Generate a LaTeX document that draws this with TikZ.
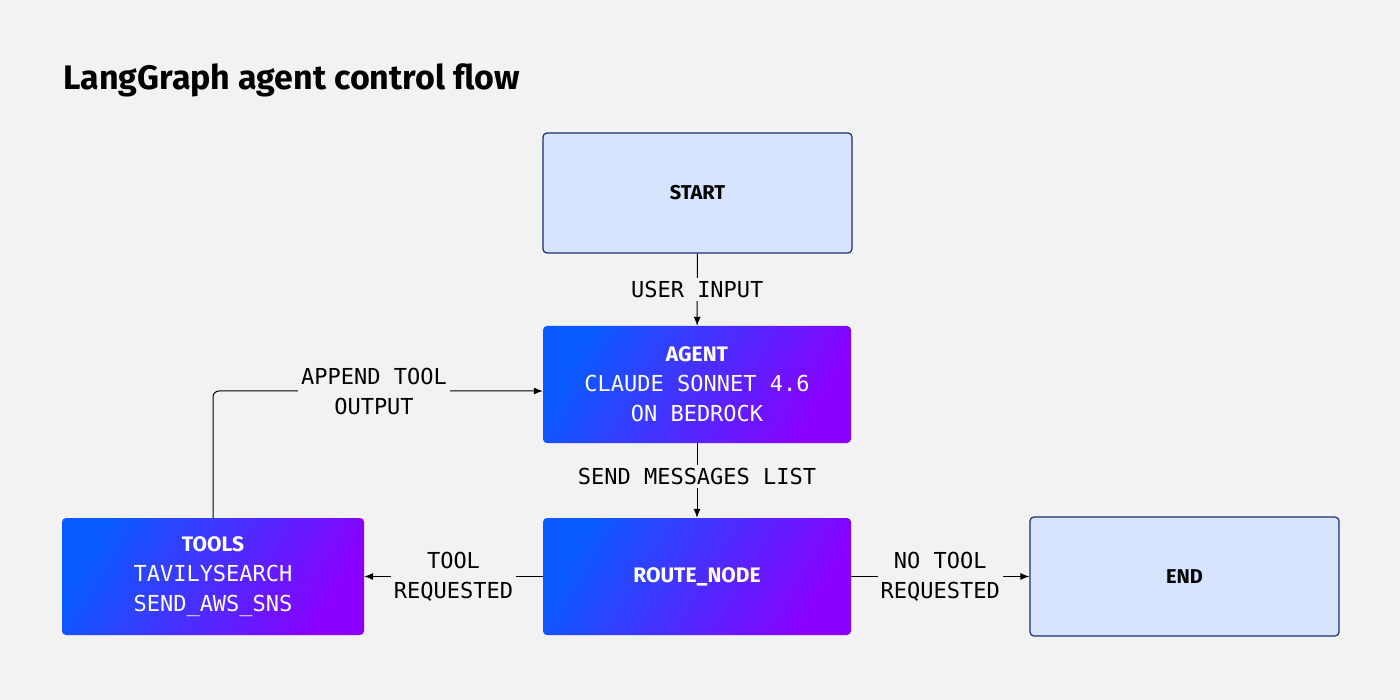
\documentclass[tikz,border=0pt]{standalone}
\usepackage{fontspec}
\setmainfont{Fira Sans}
\newfontfamily\monof{DejaVu Sans Mono}
\usetikzlibrary{arrows.meta}
\definecolor{bg}{HTML}{F2F2F2}
\definecolor{lite}{HTML}{D6E4FF}
\definecolor{navy}{HTML}{1B2E6E}
\definecolor{gA}{HTML}{0A5BFF}
\definecolor{gB}{HTML}{8A00FF}
\tikzset{
 lbox/.style={draw=navy,line width=1.2pt,fill=lite,rounded corners=4pt,font=\fontsize{20}{24}\selectfont\bfseries,text=black},
 gbox/.style={rounded corners=4pt,left color=gA,right color=gB,shading angle=60,text=white,align=center,
   font=\fontsize{22}{30}\selectfont\monof},
 arr/.style={-{Latex[length=9pt,width=7pt]},line width=1pt,black},
 lab/.style={fill=bg,inner sep=3pt,align=center,font=\fontsize{22}{30}\selectfont\monof}
}
\begin{document}
\begin{tikzpicture}[x=1pt,y=-1pt]
\fill[bg] (0,0) rectangle (1400,700);
\useasboundingbox (0,0) rectangle (1400,700);
\node[anchor=west,font=\fontsize{34}{40}\selectfont\bfseries] (title) at (60,80) {LangGraph agent control flow};
\node[lbox,minimum width=309pt,minimum height=120pt] (start) at (697.5,193) {START};
\node[gbox,minimum width=308pt,minimum height=117pt] (agent) at (697,384.5) {{\fontsize{21}{30}\selectfont\sffamily\bfseries\fontspec{Fira Sans}AGENT}\\CLAUDE SONNET 4.6\\ON BEDROCK};
\node[gbox,minimum width=308pt,minimum height=117pt,font=\fontsize{21}{30}\selectfont\bfseries] (route) at (697,576.5) {ROUTE\_NODE};
\node[gbox,minimum width=302pt,minimum height=117pt] (tools) at (213,576.5) {{\fontsize{21}{30}\selectfont\bfseries\fontspec{Fira Sans}TOOLS}\\TAVILYSEARCH\\SEND\_AWS\_SNS};
\node[lbox,minimum width=309pt,minimum height=119pt] (end) at (1184.5,576.5) {END};
\draw[arr] (start) -- node[lab] {USER INPUT} (agent);
\draw[arr] (agent) -- node[lab,pos=0.45] {SEND MESSAGES LIST} (route);
\draw[arr] (route) -- node[lab] {TOOL\\REQUESTED} (tools);
\draw[arr] (route) -- node[lab] {NO TOOL\\REQUESTED} (end);
\coordinate (c1) at (213,391);
\draw[arr,rounded corners=6pt] (tools.north) -- (c1) -- (agent.west |- c1);
\node[lab] (app) at (374,391) {APPEND TOOL\\OUTPUT};
\end{tikzpicture}
\end{document}
